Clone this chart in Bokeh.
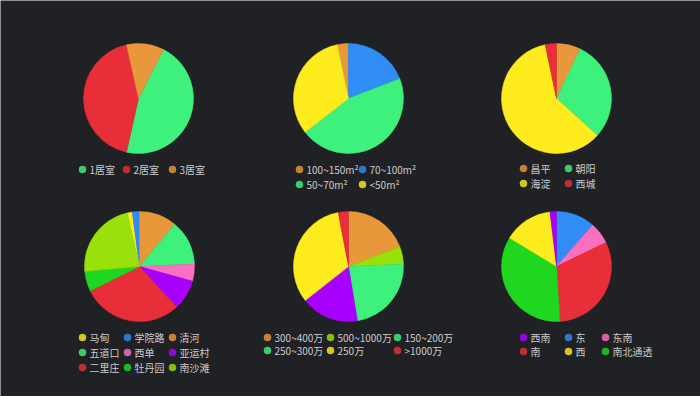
import math
from bokeh.plotting import figure
from bokeh.models import ColumnDataSource, Range1d
from bokeh.core.properties import value
from bokeh.embed import file_html
from bokeh.resources import INLINE

# ---------------- data ----------------
ORANGE = "#e9973b"
GREEN = "#3ef17c"
RED = "#e82e38"
BLUE = "#2f8df5"
YELLOW = "#ffec1f"
PINK = "#f970c0"
PURPLE = "#a800ff"
DKGREEN = "#1fd71f"
YGREEN = "#9ae00b"

# pie 1: room count
rooms_labels = ["1居室", "2居室", "3居室"]
rooms_values = [46, 43, 11]
rooms_colors = [GREEN, RED, ORANGE]

# pie 2: area
area_labels = ["100~150m²", "70~100m²", "50~70m²", "<50m²"]
area_values = [3.3, 19.2, 45.3, 32.2]
area_colors = [ORANGE, BLUE, GREEN, YELLOW]

# pie 3: district
district_labels = ["昌平", "朝阳", "海淀", "西城"]
district_values = [7.1, 29.6, 60.0, 3.3]
district_colors = [ORANGE, GREEN, YELLOW, RED]

# pie 4: neighbourhood
area2_labels = ["马甸", "学院路", "清河", "五道口", "西单", "亚运村", "二里庄", "牡丹园", "南沙滩"]
area2_values = [1.5, 2.1, 11.1, 13.2, 5.0, 8.9, 29.5, 5.9, 22.8]
area2_colors = [YELLOW, BLUE, ORANGE, GREEN, PINK, PURPLE, RED, DKGREEN, YGREEN]

# pie 5: price
price_labels = ["300~400万", "500~1000万", "150~200万", "250~300万", "250万", ">1000万"]
price_values = [19.1, 5.2, 23.1, 17.0, 32.6, 3.0]
price_colors = [ORANGE, YGREEN, GREEN, PURPLE, YELLOW, RED]
price_legend_colors = [ORANGE, YGREEN, GREEN, GREEN, YELLOW, RED]

# pie 6: orientation (drawing order clockwise)
orient_labels = ["东", "东南", "南", "南北通透", "西", "西南"]
orient_values = [11.4, 6.4, 31.2, 34.7, 14.4, 1.9]
orient_colors = [BLUE, PINK, RED, DKGREEN, YELLOW, PURPLE]
orient_legend = ["西南", "东", "东南", "南", "西", "南北通透"]

BG = "#202125"
TEXT = "#cbcbcb"
FONT = value("Noto Sans CJK SC")

W, H = 700, 396
p = figure(width=W, height=H, output_backend="svg", toolbar_location=None,
           x_range=Range1d(0, W), y_range=Range1d(399 - H, 399),
           min_border=0, background_fill_color=BG, border_fill_color=BG,
           outline_line_color=None)
p.axis.visible = False
p.grid.visible = False


def Y(sy):
    return 399 - sy


def pie(cx, cy, r, values, colors, start_deg):
    total = float(sum(values))
    starts, ends = [], []
    acc = start_deg
    for v in values:
        a0 = acc
        acc += v / total * 360.0
        starts.append(math.radians(90 - a0))
        ends.append(math.radians(90 - acc))
    src = ColumnDataSource(dict(x=[cx] * len(values), y=[Y(cy)] * len(values),
                                start=starts, end=ends, color=colors))
    p.wedge(x="x", y="y", radius=r, start_angle="start", end_angle="end",
            direction="clock", fill_color="color", line_color="color",
            line_width=0.5, source=src)


def legend(labels, colors, cols_x, rows_y):
    ncol = len(cols_x)
    xs, ys, tx = [], [], []
    for i, _ in enumerate(labels):
        cx = cols_x[i % ncol]
        cy = rows_y[i // ncol]
        xs.append(cx)
        ys.append(Y(cy))
        tx.append(cx + 7)
    src = ColumnDataSource(dict(x=xs, y=ys, tx=tx, text=labels, color=colors))
    p.scatter(x="x", y="y", size=7.5, marker="circle", fill_color="color",
              line_color=None, fill_alpha=0.82, source=src)
    p.text(x="tx", y="y", text="text", text_baseline="middle", text_align="left",
           text_font=FONT, text_font_size="10px", text_color=TEXT, source=src)


R = 55
pie(138, 98, R, rooms_values, rooms_colors, 27)
pie(348, 98, R, area_values, area_colors, -12)
pie(556, 98, R, district_values, district_colors, 0)
pie(139, 266, R, area2_values, area2_colors, -13)
pie(348, 266, R, price_values, price_colors, 0)
pie(556, 266, R, orient_values, orient_colors, 0)

legend(rooms_labels, rooms_colors, [82, 126, 172], [169])
legend(area_labels, area_colors, [299, 362], [169, 184])
legend(district_labels, district_colors, [523, 568], [168, 183])
legend(area2_labels, area2_colors, [82, 127, 172], [337, 352, 367])
legend(price_labels, price_legend_colors, [267, 330, 397], [337, 350])
orient_lcolors = [orient_colors[orient_labels.index(l)] for l in orient_legend]
legend(orient_legend, orient_lcolors, [523, 568, 605], [337, 351])

html = file_html(p, INLINE)
open("out.html", "w").write(html)
